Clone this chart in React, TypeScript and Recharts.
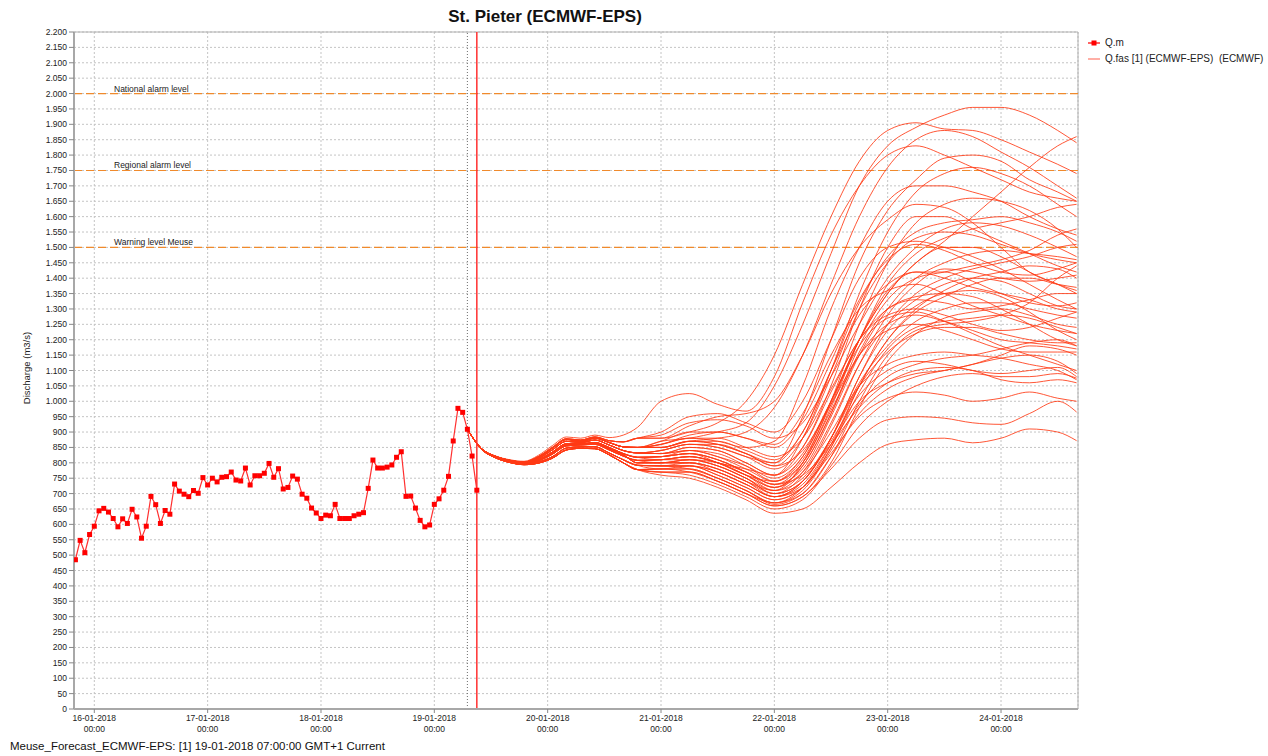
import React from 'react';
import { LineChart, Line, XAxis, YAxis, CartesianGrid, ReferenceLine, ReferenceArea } from 'recharts';

// ---------- data ----------
const OBS_START_HOUR = -4; // hours relative to 16-01-2018 00:00, hourly values
const OBS_VALUES = [
  485, 548, 508, 567, 594, 644, 652, 640, 619, 592,
  618, 603, 649, 624, 555, 594, 691, 664, 603, 645,
  633, 731, 708, 698, 690, 710, 701, 752, 728, 750,
  738, 753, 755, 770, 744, 741, 783, 728, 758, 758,
  766, 798, 753, 781, 715, 720, 757, 747, 698, 685,
  653, 637, 619, 630, 628, 665, 619, 619, 619, 628,
  633, 638, 717, 809, 783, 783, 786, 793, 818, 836,
  691, 692, 653, 613, 592, 598, 665, 683, 711, 756,
  871, 977, 964, 909, 822, 711,
];

const EARLY_TIMES = [79, 82, 85, 88, 91, 94, 97, 100, 103, 106, 109, 112, 115];
const EARLY_VARIANTS = [
  [909, 845, 818, 803, 797, 806, 828, 855, 858, 860, 842, 822, 808],
  [909, 845, 819, 805, 799, 810, 835, 862, 862, 866, 850, 830, 818],
  [909, 846, 820, 806, 800, 814, 842, 870, 866, 874, 858, 840, 832],
  [909, 844, 817, 802, 795, 802, 820, 848, 852, 852, 832, 810, 792],
  [909, 846, 821, 808, 802, 818, 848, 876, 870, 880, 866, 852, 850],
  [909, 844, 816, 801, 794, 799, 815, 842, 847, 846, 826, 800, 778],
  [909, 846, 821, 808, 803, 820, 850, 878, 874, 884, 872, 868, 880],
  [909, 845, 818, 804, 798, 808, 832, 858, 860, 863, 846, 826, 800],
  [909, 846, 822, 810, 805, 824, 856, 884, 880, 890, 882, 890, 915],
];

const LATE_TIMES = [120, 126, 132, 138, 144, 150, 156, 162, 168, 174, 180, 186, 192, 198, 204, 208];

const MEMBER_VARIANT = [
  6, 4, 4, 1, 2, 0, 4, 3, 2, 6,
  8, 1, 7, 4, 3, 2, 4, 0, 3, 2,
  1, 7, 4, 5, 2, 5, 4, 0, 6, 7,
  5, 5, 3, 5, 0, 1, 3, 1, 5, 7,
  2, 1, 6, 0, 4, 5, 2, 7, 4, 3,
];

const MEMBER_LATE = [
  [880, 900, 930, 1000, 1150, 1380, 1600, 1780, 1880, 1905, 1885, 1880, 1850, 1810, 1770, 1740],
  [870, 880, 900, 930, 1050, 1250, 1480, 1700, 1830, 1890, 1930, 1955, 1955, 1930, 1880, 1840],
  [850, 870, 880, 900, 980, 1150, 1380, 1600, 1760, 1850, 1880, 1860, 1810, 1760, 1700, 1660],
  [820, 830, 800, 760, 740, 820, 1000, 1200, 1350, 1450, 1520, 1600, 1680, 1760, 1830, 1860],
  [840, 860, 850, 820, 800, 950, 1200, 1450, 1620, 1720, 1790, 1800, 1780, 1720, 1680, 1650],
  [810, 820, 800, 780, 760, 880, 1100, 1350, 1550, 1680, 1740, 1760, 1740, 1700, 1640, 1600],
  [860, 880, 870, 850, 870, 1050, 1300, 1500, 1650, 1700, 1700, 1680, 1650, 1600, 1560, 1540],
  [790, 800, 780, 740, 710, 800, 1000, 1250, 1450, 1580, 1640, 1660, 1650, 1620, 1560, 1500],
  [830, 850, 840, 800, 760, 850, 1050, 1300, 1500, 1600, 1600, 1560, 1520, 1480, 1440, 1420],
  [880, 920, 950, 960, 1000, 1150, 1350, 1500, 1590, 1640, 1630, 1580, 1500, 1420, 1380, 1350],
  [1000, 1025, 990, 968, 1080, 1320, 1540, 1700, 1800, 1830, 1800, 1760, 1720, 1680, 1660, 1650],
  [820, 830, 810, 770, 730, 780, 950, 1150, 1300, 1400, 1450, 1480, 1490, 1480, 1470, 1460],
  [800, 810, 790, 750, 700, 760, 920, 1120, 1280, 1380, 1430, 1420, 1400, 1390, 1400, 1410],
  [850, 870, 860, 830, 800, 900, 1100, 1280, 1380, 1420, 1400, 1370, 1350, 1330, 1300, 1290],
  [780, 790, 770, 730, 690, 740, 880, 1080, 1250, 1350, 1400, 1430, 1450, 1470, 1500, 1510],
  [830, 840, 820, 790, 750, 820, 1000, 1200, 1350, 1450, 1500, 1500, 1470, 1420, 1380, 1360],
  [870, 900, 900, 880, 860, 960, 1150, 1300, 1360, 1380, 1350, 1310, 1280, 1250, 1230, 1220],
  [810, 820, 800, 760, 720, 790, 960, 1160, 1300, 1330, 1320, 1300, 1310, 1330, 1350, 1350],
  [790, 790, 760, 720, 680, 720, 850, 1050, 1200, 1290, 1340, 1380, 1400, 1400, 1380, 1370],
  [840, 860, 850, 820, 780, 850, 1030, 1200, 1280, 1300, 1280, 1250, 1230, 1240, 1270, 1290],
  [820, 840, 830, 790, 740, 800, 970, 1150, 1250, 1280, 1260, 1230, 1200, 1190, 1180, 1170],
  [800, 800, 780, 740, 700, 740, 880, 1060, 1180, 1260, 1300, 1320, 1320, 1300, 1280, 1270],
  [860, 880, 880, 850, 820, 880, 1040, 1200, 1300, 1340, 1350, 1340, 1300, 1250, 1200, 1180],
  [780, 780, 750, 710, 670, 700, 820, 1000, 1150, 1230, 1250, 1260, 1280, 1320, 1400, 1440],
  [830, 850, 840, 800, 760, 830, 1000, 1180, 1270, 1290, 1260, 1220, 1180, 1150, 1120, 1100],
  [770, 770, 740, 700, 660, 690, 800, 980, 1130, 1220, 1270, 1290, 1300, 1280, 1250, 1240],
  [850, 870, 860, 830, 790, 840, 990, 1150, 1230, 1250, 1230, 1200, 1170, 1160, 1160, 1160],
  [810, 820, 800, 760, 710, 750, 880, 1050, 1160, 1220, 1240, 1240, 1220, 1200, 1190, 1190],
  [890, 930, 940, 920, 880, 930, 1080, 1250, 1400, 1500, 1560, 1580, 1570, 1540, 1500, 1470],
  [800, 810, 790, 750, 710, 770, 930, 1120, 1250, 1330, 1380, 1400, 1390, 1350, 1310, 1300],
  [760, 750, 720, 680, 636, 650, 720, 800, 860, 875, 880, 865, 880, 910, 900, 872],
  [780, 770, 740, 700, 660, 690, 780, 880, 940, 950, 945, 930, 925, 960, 1000, 965],
  [790, 790, 760, 720, 680, 720, 830, 950, 1010, 1030, 1020, 1000, 1010, 1030, 1010, 1000],
  [770, 760, 730, 690, 650, 680, 790, 920, 1000, 1050, 1080, 1090, 1080, 1080, 1090, 1075],
  [800, 800, 780, 740, 690, 730, 860, 1000, 1060, 1090, 1100, 1120, 1140, 1150, 1130, 1090],
  [810, 810, 790, 750, 700, 740, 870, 1020, 1100, 1130, 1120, 1100, 1090, 1100, 1110, 1080],
  [790, 780, 750, 710, 670, 710, 840, 990, 1080, 1120, 1140, 1150, 1170, 1190, 1200, 1180],
  [820, 830, 810, 770, 720, 770, 900, 1050, 1120, 1150, 1160, 1150, 1140, 1120, 1100, 1070],
  [780, 780, 750, 710, 665, 700, 820, 960, 1040, 1080, 1100, 1120, 1150, 1180, 1170, 1150],
  [800, 810, 800, 770, 730, 760, 860, 980, 1060, 1100, 1110, 1100, 1070, 1060, 1070, 1060],
  [840, 860, 860, 830, 790, 880, 1080, 1300, 1450, 1530, 1550, 1540, 1510, 1480, 1460, 1450],
  [820, 830, 810, 770, 730, 800, 980, 1200, 1380, 1480, 1530, 1560, 1580, 1600, 1630, 1640],
  [900, 950, 960, 930, 900, 1000, 1200, 1400, 1500, 1520, 1500, 1470, 1430, 1380, 1330, 1300],
  [810, 820, 800, 760, 720, 790, 960, 1180, 1330, 1400, 1420, 1440, 1460, 1490, 1540, 1560],
  [850, 870, 870, 840, 810, 900, 1100, 1320, 1470, 1550, 1580, 1590, 1600, 1580, 1550, 1520],
  [770, 770, 740, 700, 670, 720, 860, 1050, 1200, 1300, 1360, 1400, 1420, 1440, 1430, 1400],
  [830, 840, 820, 780, 740, 810, 990, 1200, 1360, 1420, 1420, 1390, 1350, 1320, 1310, 1320],
  [800, 800, 770, 730, 690, 740, 880, 1080, 1230, 1310, 1350, 1360, 1340, 1290, 1230, 1200],
  [860, 890, 900, 880, 850, 940, 1130, 1330, 1460, 1510, 1490, 1450, 1420, 1410, 1430, 1450],
  [790, 790, 770, 730, 690, 720, 850, 1030, 1170, 1240, 1260, 1270, 1280, 1270, 1240, 1220],
];

const DAY_TICKS = [0, 24, 48, 72, 96, 120, 144, 168, 192];
const DAY_LABELS = ['16-01-2018', '17-01-2018', '18-01-2018', '19-01-2018', '20-01-2018', '21-01-2018', '22-01-2018', '23-01-2018', '24-01-2018'];
const Y_TICKS = [
  0, 50, 100, 150, 200, 250, 300, 350, 400, 450, 500, 550, 600, 650, 700, 750, 800, 850, 900, 950,
  1000, 1050, 1100, 1150, 1200, 1250, 1300, 1350, 1400, 1450, 1500, 1550, 1600, 1650, 1700, 1750,
  1800, 1850, 1900, 1950, 2000, 2050, 2100, 2150, 2200,
];
const ALARM_LEVELS = [
  { value: 2000, label: 'National alarm level' },
  { value: 1750, label: 'Regional alarm level' },
  { value: 1500, label: 'Warning level Meuse' },
];
const T0_HOUR = 79;   // 19-01-2018 07:00
const NOW_HOUR = 81;  // current time line

// ---------- build table ----------
const rowsMap = new Map<number, any>();
const getRow = (t: number) => {
  let r = rowsMap.get(t);
  if (!r) { r = { t }; rowsMap.set(t, r); }
  return r;
};
OBS_VALUES.forEach((v, i) => { getRow(OBS_START_HOUR + i).obs = v; });
MEMBER_VARIANT.forEach((vi, m) => {
  EARLY_TIMES.forEach((t, k) => { getRow(t)[`f${m}`] = EARLY_VARIANTS[vi][k]; });
  LATE_TIMES.forEach((t, k) => { getRow(t)[`f${m}`] = MEMBER_LATE[m][k]; });
});
const DATA = Array.from(rowsMap.values()).sort((a, b) => a.t - b.t);

const FONT = '"Liberation Sans", Arial, sans-serif';

const fmtY = (v: number) => {
  if (v >= 1000) {
    const th = Math.floor(v / 1000);
    const rest = String(v % 1000).padStart(3, '0');
    return `${th}.${rest}`;
  }
  return String(v);
};

const XTick = (props: any) => {
  const { x, y, payload } = props;
  const idx = Math.round(payload.value / 24);
  return (
    <g>
      <text x={x} y={y + 6} textAnchor="middle" fontSize={8.5} fill="#222" fontFamily={FONT}>{DAY_LABELS[idx]}</text>
      <text x={x} y={y + 17} textAnchor="middle" fontSize={8.5} fill="#222" fontFamily={FONT}>00:00</text>
    </g>
  );
};

const AlarmLabel = (props: any) => {
  const { viewBox, text } = props;
  if (!viewBox) return null;
  return (
    <text x={viewBox.x + 40} y={viewBox.y - 2} fontSize={8.5} fill="#222" fontFamily={FONT}>{text}</text>
  );
};

const SquareDot = (props: any) => {
  const { cx, cy, index } = props;
  if (cx == null || cy == null) return null;
  return <rect key={`d${index}`} x={cx - 2.5} y={cy - 2.5} width={5} height={5} fill="#ff0000" />;
};

export default function App() {
  return (
    <div style={{ position: 'absolute', left: 0, top: 0, width: 1268, height: 756, background: '#fff', fontFamily: FONT }}>
      <div style={{ position: 'absolute', left: 0, top: 7, width: 1090, textAlign: 'center', fontWeight: 'bold', fontSize: 17, color: '#111' }}>
        St. Pieter (ECMWF-EPS)
      </div>
      <LineChart width={1268} height={756} data={DATA} margin={{ top: 32, right: 190, bottom: 7, left: 0 }}>
        <CartesianGrid stroke="#c4c4c4" strokeDasharray="2 2" />
        <XAxis
          type="number"
          dataKey="t"
          domain={[-4.3, 208.3]}
          allowDataOverflow
          ticks={DAY_TICKS}
          interval={0}
          tick={<XTick />}
          tickSize={4}
          tickLine={{ stroke: '#888' }}
          axisLine={{ stroke: '#a8a8a8', strokeWidth: 2 }}
          height={40}
        />
        <YAxis
          domain={[0, 2200]}
          allowDataOverflow
          ticks={Y_TICKS}
          interval={0}
          tickFormatter={fmtY}
          tick={{ fontSize: 8.5, fill: '#222', fontFamily: FONT }}
          tickSize={5}
          tickLine={{ stroke: '#888' }}
          axisLine={{ stroke: '#a8a8a8', strokeWidth: 2 }}
          width={74}
        />
        <ReferenceArea x1={-4.3} x2={208.3} y1={0} y2={2200} fill="none" fillOpacity={0} stroke="#b0b0b0" strokeWidth={1} ifOverflow="visible" />
        {ALARM_LEVELS.map((a) => (
          <ReferenceLine
            key={a.value}
            y={a.value}
            stroke="#f08a2c"
            strokeDasharray="8 4"
            strokeWidth={1.2}
            label={<AlarmLabel text={a.label} />}
          />
        ))}
        <ReferenceLine x={T0_HOUR} stroke="#6e6e6e" strokeDasharray="1 2" />
        {MEMBER_VARIANT.map((_, m) => (
          <Line
            key={`f${m}`}
            dataKey={`f${m}`}
            type="monotone"
            stroke="#ff3a14"
            strokeOpacity={0.85}
            strokeWidth={1}
            dot={false}
            activeDot={false}
            connectNulls
            isAnimationActive={false}
          />
        ))}
        <Line
          dataKey="obs"
          type="linear"
          stroke="#ff3030"
          strokeWidth={1.2}
          dot={<SquareDot />}
          activeDot={false}
          isAnimationActive={false}
        />
        <ReferenceLine x={NOW_HOUR} stroke="#ff3030" strokeWidth={1.5} />
      </LineChart>
      <div style={{ position: 'absolute', left: 20, top: 368, transform: 'translate(-50%, -50%) rotate(-90deg)', fontSize: 9.5, color: '#222', whiteSpace: 'nowrap', marginLeft: 6 }}>
        Discharge (m3/s)
      </div>
      <div style={{ position: 'absolute', left: 1087, top: 35, fontSize: 10, color: '#222', lineHeight: '16px' }}>
        <div style={{ display: 'flex', alignItems: 'center' }}>
          <svg width={18} height={12}>
            <line x1={1} y1={6} x2={13} y2={6} stroke="#ff3030" strokeWidth={1.5} />
            <rect x={4.5} y={3.5} width={5} height={5} fill="#ff0000" />
          </svg>
          <span>Q.m</span>
        </div>
        <div style={{ display: 'flex', alignItems: 'center' }}>
          <svg width={18} height={12}>
            <line x1={1} y1={6} x2={13} y2={6} stroke="#ff7a6a" strokeWidth={1.2} />
          </svg>
          <span>Q.fas [1] (ECMWF-EPS)&nbsp;&nbsp;(ECMWF)</span>
        </div>
      </div>
      <div style={{ position: 'absolute', left: 10, top: 739, fontSize: 11.5, lineHeight: '14px', color: '#111', whiteSpace: 'nowrap' }}>
        Meuse_Forecast_ECMWF-EPS: [1] 19-01-2018 07:00:00 GMT+1 Current
      </div>
    </div>
  );
}
